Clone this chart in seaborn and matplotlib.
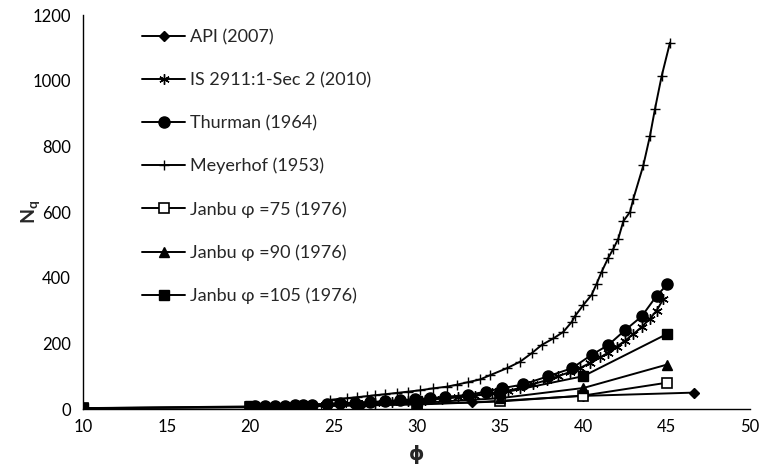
import matplotlib
matplotlib.use("Agg")
import matplotlib.pyplot as plt
import seaborn as sns

# Bearing capacity factor Nq versus friction angle for several methods
phi_api = [20, 26.67, 33.33, 40, 46.67]
nq_api = [8, 12, 20, 40, 50]

phi_is = [24.5, 25.5, 26.5, 27.5, 28.5, 29.5, 30.5, 31.5, 32.5, 33.5, 34.5, 35.5,
          36.2, 37.0, 37.8, 38.5, 39.2, 39.8, 40.4, 41.0, 41.5, 42.0, 42.5, 43.0,
          43.5, 44.0, 44.4, 44.8]
nq_is = [13, 15, 17, 19, 22, 25, 28, 32, 36, 41, 48, 56,
         64, 76, 88, 100, 113, 125, 140, 157, 172, 190, 208, 228,
         250, 275, 300, 335]

phi_thurman = [20.3, 20.9, 21.5, 22.1, 22.7, 23.2, 23.7, 24.6, 25.4, 26.3, 27.2,
               28.1, 29.0, 29.9, 30.8, 31.7, 33.1, 34.15, 35.1, 36.4, 37.9, 39.3,
               40.5, 41.5, 42.5, 43.5, 44.4, 45.05]
nq_thurman = [8, 8.5, 9, 10, 11, 12, 13, 15, 17, 19, 21,
              24, 27, 30, 33, 37, 43, 53, 63, 75, 100, 124,
              165, 195, 240, 282, 345, 380]

phi_meyerhof = [24.8, 25.8, 26.4, 27.0, 27.5, 28.1, 28.8, 29.5, 30.2, 31.0, 31.8,
                32.4, 33.1, 33.8, 34.4, 35.4, 36.2, 36.9, 37.5, 38.2, 38.8, 39.3,
                39.5, 40.0, 40.5, 40.8, 41.1, 41.5, 41.8, 42.1, 42.4, 42.8, 43.0,
                43.6, 44.0, 44.3, 44.7, 45.2]
nq_meyerhof = [28, 33, 36, 39, 42, 45, 49, 53, 57, 63, 68,
               74, 82, 90, 103, 124, 144, 170, 195, 215, 235, 265,
               283, 317, 348, 382, 418, 461, 488, 519, 572, 600, 640,
               742, 832, 914, 1014, 1116]

phi_janbu = [10, 20, 30, 35, 40, 45]
nq_janbu75 = [2.3, 5.3, 13.6, 23, 41, 80]
nq_janbu90 = [2.5, 6.4, 18.4, 33, 64, 135]
nq_janbu105 = [2.7, 7.8, 25, 48, 100, 228]

x_ticks = [10, 15, 20, 25, 30, 35, 40, 45, 50]
y_ticks = [0, 200, 400, 600, 800, 1000, 1200]

sns.set_theme(style="white")
plt.rcParams["font.family"] = ["Lato", "DejaVu Sans"]
plt.rcParams["mathtext.fontset"] = "custom"
plt.rcParams["mathtext.rm"] = "Lato"
plt.rcParams["mathtext.bf"] = "Lato:bold"

fig = plt.figure(figsize=(7.61, 4.69), dpi=100)
ax = fig.add_axes([0.1097, 0.1279, 0.8758, 0.8401])

common = dict(ax=ax, color="black", linewidth=1.4, estimator=None, sort=False,
              markeredgecolor="black")

sns.lineplot(x=phi_api, y=nq_api, label="API (2007)", marker="D",
             markersize=5.5, markeredgewidth=1, **common)
sns.lineplot(x=phi_is, y=nq_is, label="IS 2911:1-Sec 2 (2010)", marker=(6, 2, 0),
             markersize=7.5, markeredgewidth=1, **common)
sns.lineplot(x=phi_thurman, y=nq_thurman, label="Thurman (1964)", marker="o",
             markersize=8, markeredgewidth=1, **common)
sns.lineplot(x=phi_meyerhof, y=nq_meyerhof, label="Meyerhof (1953)", marker="+",
             markersize=7.5, markeredgewidth=1, **common)
sns.lineplot(x=phi_janbu, y=nq_janbu75, label="Janbu φ =75 (1976)", marker="s",
             markersize=7, markeredgewidth=1.2, markerfacecolor="white", **common)
sns.lineplot(x=phi_janbu, y=nq_janbu90, label="Janbu φ =90 (1976)", marker="^",
             markersize=7.5, markeredgewidth=1, **common)
sns.lineplot(x=phi_janbu, y=nq_janbu105, label="Janbu φ =105 (1976)", marker="s",
             markersize=7.5, markeredgewidth=1, **common)

ax.set_xlim(10, 50)
ax.set_ylim(0, 1200)
ax.set_xticks(x_ticks)
ax.set_yticks(y_ticks)
ax.tick_params(axis="both", length=0, labelsize=12, colors="black")
ax.tick_params(axis="x", pad=7)
ax.tick_params(axis="y", pad=9)

for side in ("top", "right"):
    ax.spines[side].set_visible(False)
for side in ("left", "bottom"):
    ax.spines[side].set_color("black")
    ax.spines[side].set_linewidth(1.0)

ax.set_xlabel("ϕ", fontsize=14, fontweight="bold",
              family=["DejaVu Sans"])
ax.set_ylabel(r"$\mathbf{N_q}$", fontsize=14)
ax.xaxis.set_label_coords(0.5, -0.092)
ax.yaxis.set_label_coords(-0.062, 0.5)

handles, labels = ax.get_legend_handles_labels()
ax.legend(handles, labels, loc="upper left", bbox_to_anchor=(0.088, 0.9637),
          frameon=False, fontsize=13, handlelength=2.38, handletextpad=0.28,
          labelspacing=1.48, borderpad=0, borderaxespad=0)

fig.savefig("out.png", dpi=100)
